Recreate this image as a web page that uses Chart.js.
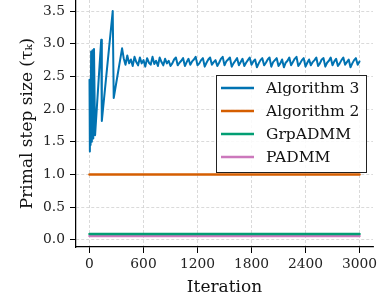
<!DOCTYPE html>
<html>
<head>
<meta charset="utf-8">
<script src="https://cdn.jsdelivr.net/npm/chart.js@4/dist/chart.umd.min.js"></script>
<style>
  html, body { margin: 0; padding: 0; background: #fff; }
  #wrap { width: 389px; height: 302px; }
</style>
</head>
<body>
<div id="wrap"><canvas id="stepChart"></canvas></div>
<script>
// Algorithm 3: early transient (iteration, step size)
const alg3Iter = [0, 4, 8, 12, 18, 26, 34, 42, 50, 62, 130, 137, 258, 269, 362];
const alg3Early = [2.45, 1.35, 2.0, 1.45, 2.88, 1.5, 2.9, 1.55, 2.92, 1.6, 3.06, 1.82, 3.5, 2.17, 2.93];
// Algorithm 3: steady oscillation, one value every 20 iterations from 380 to 3000
const alg3SteadyStart = 380;
const alg3SteadyStep = 20;
const alg3Steady = [
  2.78, 2.68, 2.82, 2.70, 2.76, 2.66, 2.80, 2.72, 2.67, 2.79,
  2.70, 2.75, 2.65, 2.78, 2.71, 2.68, 2.80, 2.69, 2.74, 2.66,
  2.79, 2.72, 2.67, 2.77, 2.70, 2.74, 2.66,
  2.70, 2.76, 2.79, 2.67, 2.71, 2.74, 2.78, 2.66, 2.72, 2.77,
  2.68, 2.73, 2.76, 2.80, 2.67, 2.70, 2.75, 2.78, 2.65, 2.71,
  2.76, 2.79, 2.68, 2.72, 2.75, 2.66, 2.71, 2.77, 2.80, 2.67,
  2.73, 2.76, 2.79, 2.65, 2.70, 2.74, 2.78, 2.67, 2.72, 2.77,
  2.66, 2.71, 2.75, 2.79, 2.68, 2.73, 2.76, 2.64, 2.70, 2.75,
  2.78, 2.67, 2.71, 2.76, 2.79, 2.65, 2.72, 2.75, 2.78, 2.66,
  2.70, 2.76, 2.64, 2.71, 2.74, 2.79, 2.67, 2.72, 2.77, 2.80,
  2.66, 2.70, 2.75, 2.78, 2.65, 2.71, 2.76, 2.67, 2.72, 2.75,
  2.79, 2.66, 2.70, 2.76, 2.78, 2.65, 2.71, 2.74, 2.79, 2.67,
  2.73, 2.77, 2.66, 2.70, 2.75, 2.79, 2.68, 2.72, 2.76, 2.64,
  2.70, 2.75, 2.78, 2.68, 2.73
];
// constant step sizes
const constIter = [0, 3000];
const alg2Step = [1.0, 1.0];
const grpStep = [0.09, 0.09];
const padmmStep = [0.06, 0.06];

const xTicks = [0, 600, 1200, 1800, 2400, 3000];
const yTicks = [0, 0.5, 1, 1.5, 2, 2.5, 3, 3.5];

const seriesNames = ['Algorithm 3', 'Algorithm 2', 'GrpADMM', 'PADMM'];
const seriesColors = ['#0173b2', '#d55e00', '#029e73', '#cc78bc'];

function toPoints(xs, ys) {
  return xs.map((x, i) => ({ x: x, y: ys[i] }));
}

const alg3Points = toPoints(alg3Iter, alg3Early).concat(
  alg3Steady.map((v, i) => ({ x: alg3SteadyStart + i * alg3SteadyStep, y: v }))
);

const serif = "'DejaVu Serif', serif";

// legend drawn inside the plot, upper right
const insideLegend = {
  id: 'insideLegend',
  afterDraw(chart) {
    const ctx = chart.ctx;
    const x0 = 216, y0 = 75, w = 150, h = 97;
    ctx.save();
    ctx.fillStyle = 'rgba(255,255,255,0.85)';
    ctx.fillRect(x0, y0, w, h);
    ctx.strokeStyle = '#222';
    ctx.lineWidth = 1;
    ctx.strokeRect(x0 + 0.5, y0 + 0.5, w, h);
    ctx.font = '15.5px ' + serif;
    ctx.textBaseline = 'middle';
    ctx.fillStyle = '#111';
    chart.data.datasets.forEach((ds, i) => {
      const yy = y0 + 13 + i * 23;
      ctx.strokeStyle = ds.borderColor;
      ctx.lineWidth = 2.5;
      ctx.beginPath();
      ctx.moveTo(x0 + 5, yy);
      ctx.lineTo(x0 + 38, yy);
      ctx.stroke();
      ctx.fillText(ds.label, x0 + 50, yy + 1);
    });
    ctx.restore();
  }
};

const gridOpts = {
  color: '#d0d0d0',
  lineWidth: 0.8,
  tickColor: '#000',
  tickLength: 6,
  tickWidth: 1
};

new Chart(document.getElementById('stepChart'), {
  type: 'line',
  data: {
    datasets: [
      { label: seriesNames[0], data: alg3Points, borderColor: seriesColors[0], borderWidth: 2 },
      { label: seriesNames[1], data: toPoints(constIter, alg2Step), borderColor: seriesColors[1], borderWidth: 2.5 },
      { label: seriesNames[2], data: toPoints(constIter, grpStep), borderColor: seriesColors[2], borderWidth: 2.5 },
      { label: seriesNames[3], data: toPoints(constIter, padmmStep), borderColor: seriesColors[3], borderWidth: 2.5 }
    ]
  },
  options: {
    responsive: true,
    maintainAspectRatio: false,
    animation: false,
    layout: { padding: { left: 0, right: 16, top: 0, bottom: 0 } },
    elements: {
      point: { radius: 0 },
      line: { tension: 0, borderJoinStyle: 'round', borderCapStyle: 'round' }
    },
    plugins: { legend: { display: false }, tooltip: { enabled: false } },
    scales: {
      x: {
        type: 'linear',
        min: -150,
        max: 3150,
        afterBuildTicks: s => { s.ticks = xTicks.map(v => ({ value: v })); },
        afterFit: s => { s.height = 55; s.paddingLeft = 0; s.paddingRight = 0; },
        grid: gridOpts,
        border: { color: '#000', width: 1.25, dash: [3, 2] },
        ticks: { color: '#222', font: { family: serif, size: 13.8 }, padding: 3, maxRotation: 0, autoSkip: false, callback: v => String(v) },
        title: { display: true, text: 'Iteration', color: '#111', font: { family: serif, size: 17 }, padding: { top: 0, bottom: 4 } }
      },
      y: {
        min: -0.11,
        max: 3.67,
        afterBuildTicks: s => { s.ticks = yTicks.map(v => ({ value: v })); },
        afterFit: s => { s.width = 76; s.paddingTop = 0; s.paddingBottom = 0; },
        grid: gridOpts,
        border: { color: '#000', width: 1.25, dash: [3, 2] },
        ticks: { color: '#222', font: { family: serif, size: 13.8 }, padding: 5, callback: v => v.toFixed(1) },
        title: { display: true, text: 'Primal step size (τₖ)', color: '#111', font: { family: serif, size: 17 }, padding: { top: 17, bottom: 0 } }
      }
    }
  },
  plugins: [insideLegend]
});
</script>
</body>
</html>
